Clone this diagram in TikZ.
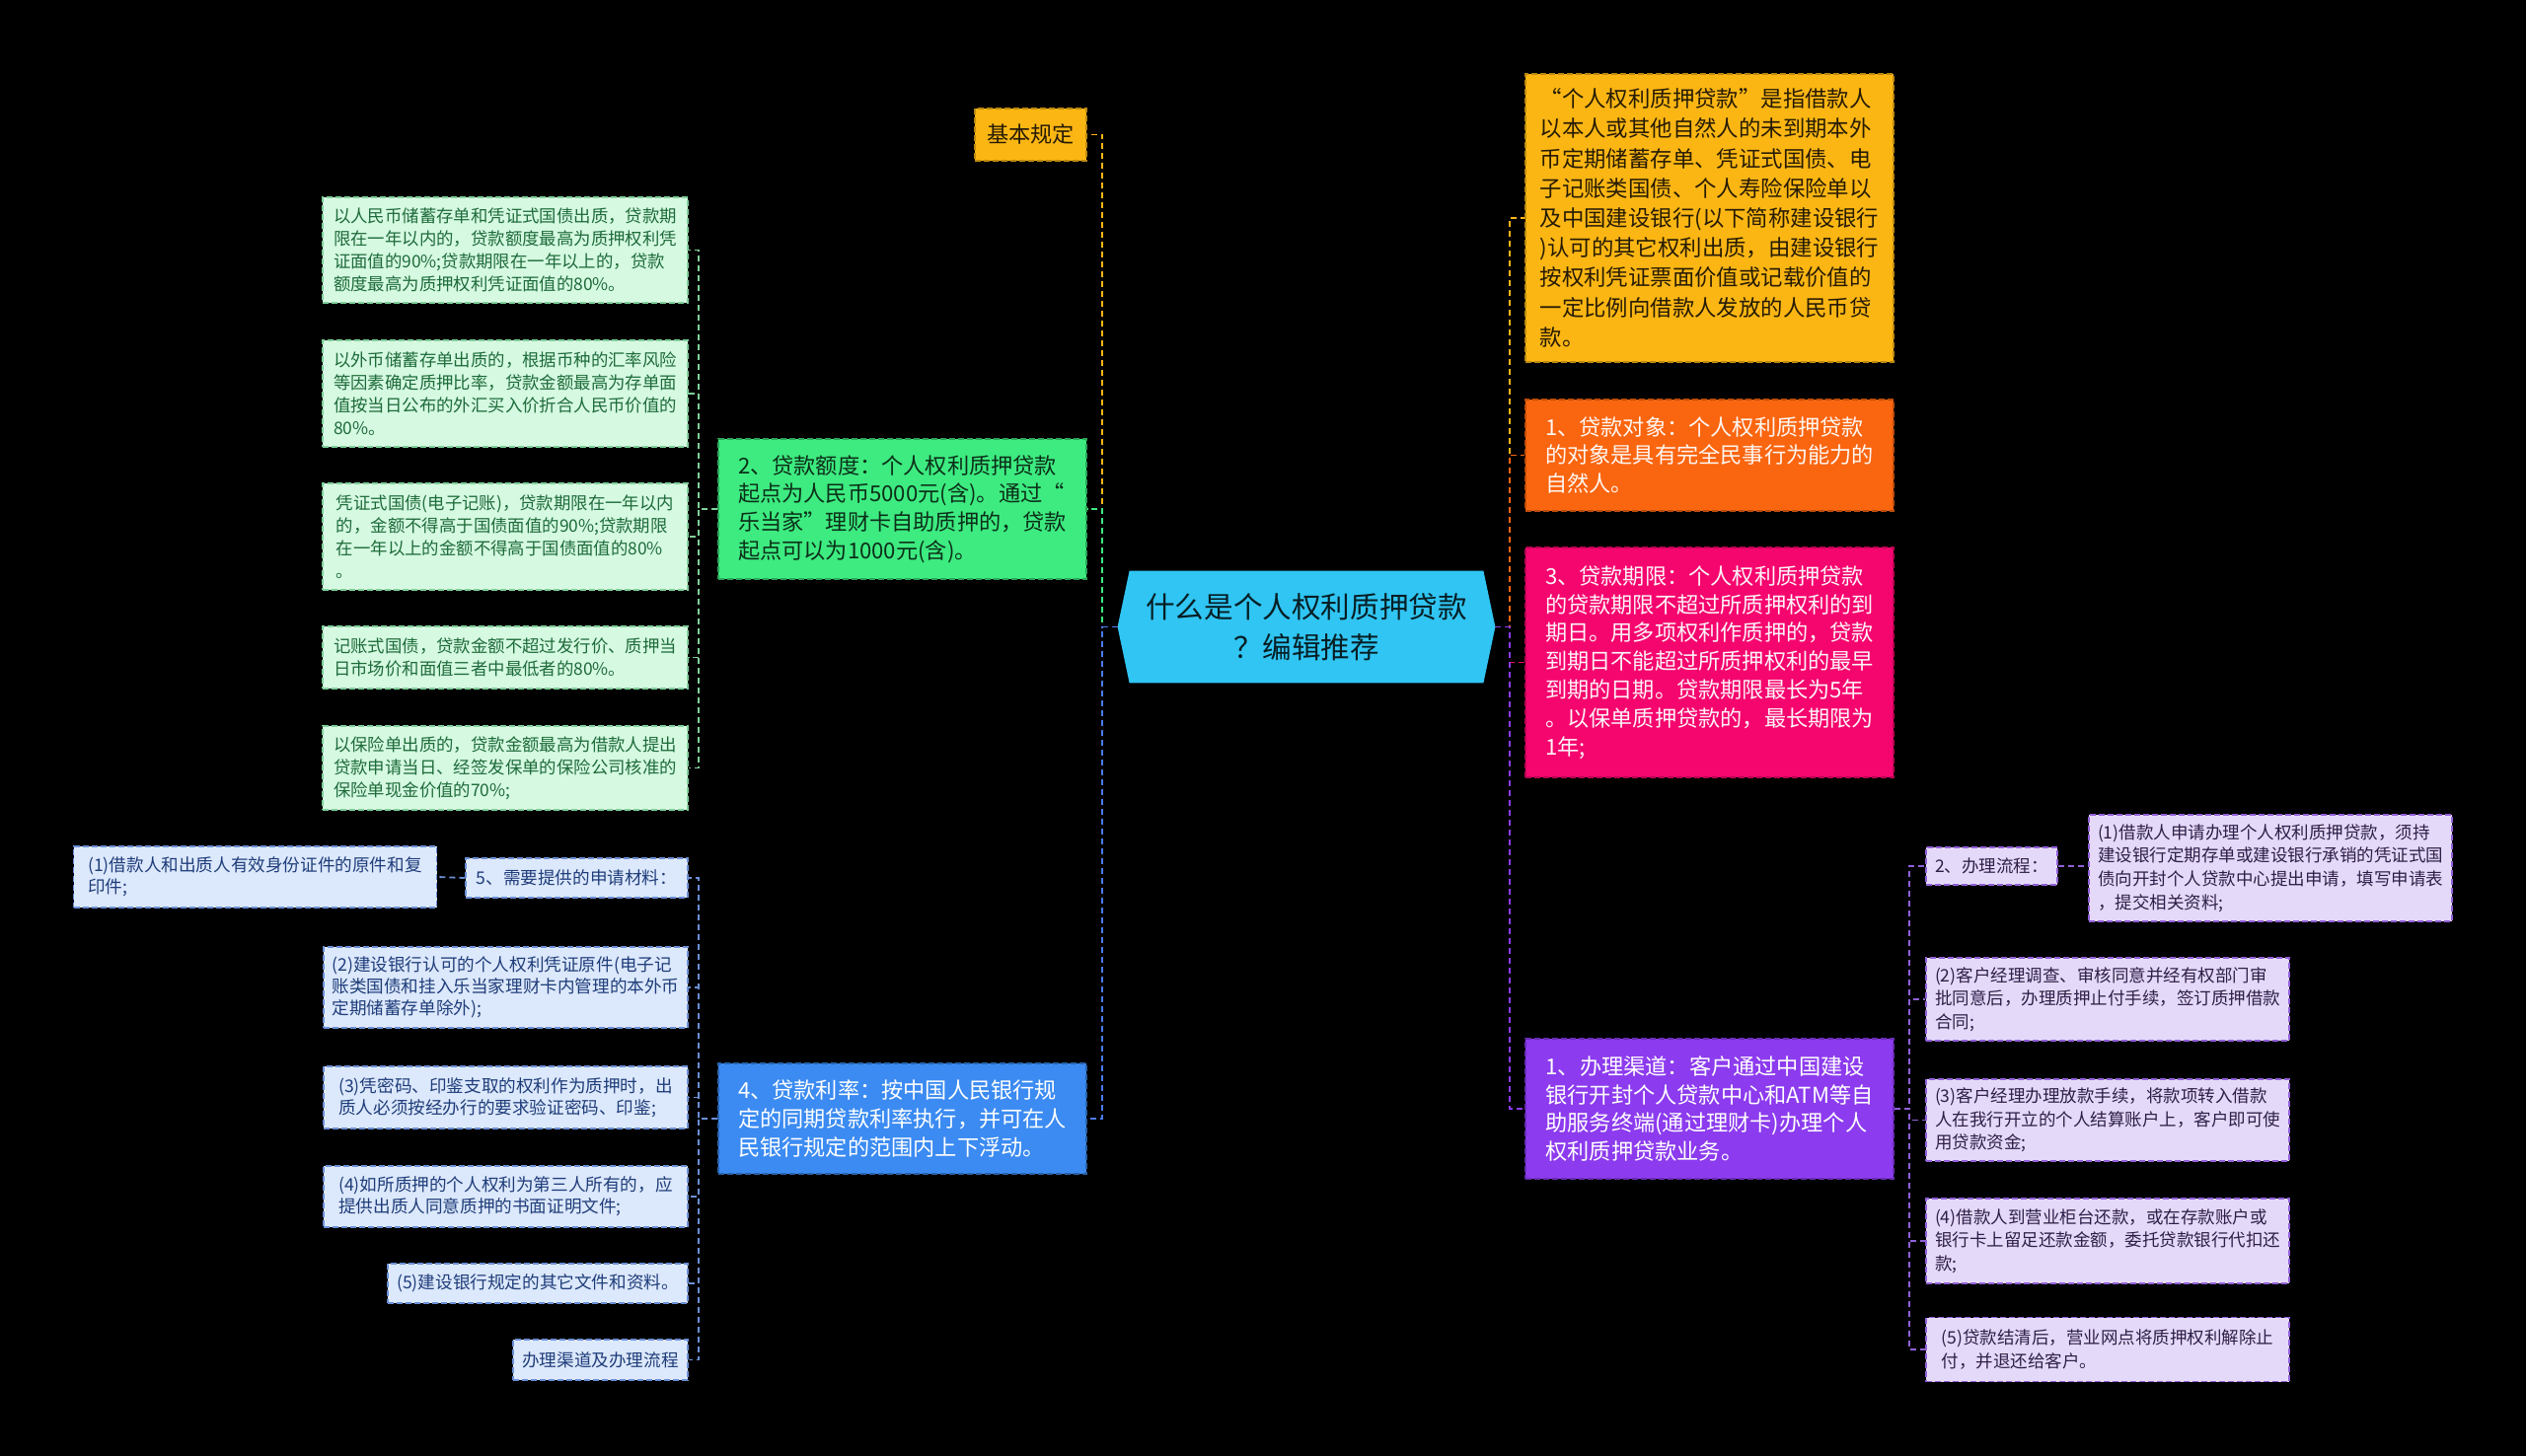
\documentclass[tikz,border=0pt]{standalone}
\usepackage{fontspec}
\setmainfont{Noto Sans CJK SC}
\usetikzlibrary{calc}
\pgfdeclarelayer{bg}
\pgfsetlayers{bg,main}
\definecolor{cYel}{HTML}{FBB614}
\definecolor{cGrn}{HTML}{3DEB80}
\definecolor{cBlu}{HTML}{3B8BF2}
\definecolor{cOrg}{HTML}{FA650F}
\definecolor{cPnk}{HTML}{F5066E}
\definecolor{cPur}{HTML}{8C3BEE}
\definecolor{cCen}{HTML}{30C5F3}
\definecolor{lGrn}{HTML}{D5F9E1}
\definecolor{lBlu}{HTML}{DCE8FB}
\definecolor{lPur}{HTML}{E5D9F9}
\definecolor{tGrn}{HTML}{1E6B3A}
\definecolor{tBlu}{HTML}{1F3D7A}
\definecolor{tPur}{HTML}{2D1F47}
\definecolor{sGrn}{HTML}{7FCF9A}
\definecolor{sBlu}{HTML}{6B8FD6}
\definecolor{sPur}{HTML}{9060D8}
\begin{document}
\begin{tikzpicture}[x=0.5pt,y=-0.5pt,
  box/.style={draw, dash pattern=on 3pt off 1.5pt, line width=0.6pt, inner sep=0pt, align=left, anchor=center},
  mainbox/.style={box, font=\fontsize{11.1}{14.4}\selectfont},
  leafg/.style={box, font=\fontsize{8.7}{11.6}\selectfont, fill=lGrn, draw=sGrn, text=tGrn},
  leafb/.style={box, font=\fontsize{8.8}{11}\selectfont, fill=lBlu, draw=sBlu, text=tBlu},
  leafp/.style={box, font=\fontsize{8.75}{11.8}\selectfont, fill=lPur, draw=sPur, text=tPur},
  conn/.style={line width=0.9pt, dash pattern=on 3pt off 2pt},
]
\begin{pgfonlayer}{bg}
\fill[black] (0,0) rectangle (2560,1476);
\end{pgfonlayer}
\useasboundingbox (0,0) rectangle (2560,1476);

% center
\node[font=\fontsize{14.8}{20.5}\selectfont, text=black!85!cCen, align=center, minimum width=191pt, minimum height=56.5pt, inner sep=0pt] (c) at (1324,635.5) {什么是个人权利质押贷款\\？编辑推荐};

% left main
\node[mainbox, fill=cYel, draw=cYel!75!black, text=black!85!cYel, minimum width=56.5pt, minimum height=26.5pt] (jb) at (1044.5,136.5) {基本规定};
\node[mainbox, fill=cGrn, draw=cGrn!70!black, text=black!80!cGrn, minimum width=186.5pt, minimum height=71pt] (ed) at (914.5,516) {2、贷款额度：个人权利质押贷款\\起点为人民币5000元(含)。通过“\\乐当家”理财卡自助质押的，贷款\\起点可以为1000元(含)。};
\node[mainbox, fill=cBlu, draw=cBlu!70!black, text=white, minimum width=186.5pt, minimum height=56pt] (ll) at (914.5,1134) {4、贷款利率：按中国人民银行规\\定的同期贷款利率执行，并可在人\\民银行规定的范围内上下浮动。};

% green leaves
\node[leafg, minimum width=185pt, minimum height=53.5pt] (g1) at (512,253.5) {以人民币储蓄存单和凭证式国债出质，贷款期\\限在一年以内的，贷款额度最高为质押权利凭\\证面值的90\%;贷款期限在一年以上的，贷款\\额度最高为质押权利凭证面值的80\%。};
\node[leafg, minimum width=185pt, minimum height=54pt] (g2) at (512,399) {以外币储蓄存单出质的，根据币种的汇率风险\\等因素确定质押比率，贷款金额最高为存单面\\值按当日公布的外汇买入价折合人民币价值的\\80\%。};
\node[leafg, minimum width=185pt, minimum height=54pt] (g3) at (512,544) {凭证式国债(电子记账)，贷款期限在一年以内\\的，金额不得高于国债面值的90\%;贷款期限\\在一年以上的金额不得高于国债面值的80\%\\。};
\node[leafg, minimum width=185pt, minimum height=31.5pt] (g4) at (512,666.5) {记账式国债，贷款金额不超过发行价、质押当\\日市场价和面值三者中最低者的80\%。};
\node[leafg, minimum width=185pt, minimum height=42.5pt] (g5) at (512,778.5) {以保险单出质的，贷款金额最高为借款人提出\\贷款申请当日、经签发保单的保险公司核准的\\保险单现金价值的70\%;};

% blue leaves
\node[leafb, minimum width=184pt, minimum height=31pt] (b1) at (258.5,889) {(1)借款人和出质人有效身份证件的原件和复\\印件;};
\node[leafb, minimum width=112.5pt, minimum height=20pt] (b5) at (584.5,890) {5、需要提供的申请材料：};
\node[leafb, minimum width=184.5pt, minimum height=41pt] (b2) at (512.5,1001) {(2)建设银行认可的个人权利凭证原件(电子记\\账类国债和挂入乐当家理财卡内管理的本外币\\定期储蓄存单除外);};
\node[leafb, minimum width=184.5pt, minimum height=31.5pt] (b3) at (512.5,1112.5) {(3)凭密码、印鉴支取的权利作为质押时，出\\质人必须按经办行的要求验证密码、印鉴;};
\node[leafb, minimum width=184.5pt, minimum height=31pt] (b4) at (512.5,1213) {(4)如所质押的个人权利为第三人所有的，应\\提供出质人同意质押的书面证明文件;};
\node[leafb, minimum width=152pt, minimum height=20pt] (b6) at (545,1301) {(5)建设银行规定的其它文件和资料。};
\node[leafb, minimum width=88.5pt, minimum height=20.5pt] (b7) at (608.5,1378.5) {办理渠道及办理流程};

% right main
\node[mainbox, fill=cYel, draw=cYel!75!black, text=black!85!cYel, minimum width=186.5pt, minimum height=146pt, font=\fontsize{11.2}{15.1}\selectfont] (def) at (1732.5,221) {“个人权利质押贷款”是指借款人\\以本人或其他自然人的未到期本外\\币定期储蓄存单、凭证式国债、电\\子记账类国债、个人寿险保险单以\\及中国建设银行(以下简称建设银行\\)认可的其它权利出质，由建设银行\\按权利凭证票面价值或记载价值的\\一定比例向借款人发放的人民币贷\\款。};
\node[mainbox, fill=cOrg, draw=cOrg!75!black, text=white!94!cOrg, minimum width=186.5pt, minimum height=56.5pt] (dx) at (1732.5,461.5) {1、贷款对象：个人权利质押贷款\\的对象是具有完全民事行为能力的\\自然人。};
\node[mainbox, fill=cPnk, draw=cPnk!75!black, text=white!95!cPnk, minimum width=186.5pt, minimum height=116.5pt] (qx) at (1732.5,671.5) {3、贷款期限：个人权利质押贷款\\的贷款期限不超过所质押权利的到\\期日。用多项权利作质押的，贷款\\到期日不能超过所质押权利的最早\\到期的日期。贷款期限最长为5年\\。以保单质押贷款的，最长期限为\\1年;};
\node[mainbox, fill=cPur, draw=cPur!75!black, text=white, minimum width=186.5pt, minimum height=71pt] (qd) at (1732.5,1124) {1、办理渠道：客户通过中国建设\\银行开封个人贷款中心和ATM等自\\助服务终端(通过理财卡)办理个人\\权利质押贷款业务。};

% purple leaves
\node[leafp, minimum width=66.5pt, minimum height=19pt] (p0) at (2018.5,878) {2、办理流程：};
\node[leafp, minimum width=184pt, minimum height=54pt] (p1) at (2301,880) {(1)借款人申请办理个人权利质押贷款，须持\\建设银行定期存单或建设银行承销的凭证式国\\债向开封个人贷款中心提出申请，填写申请表\\，提交相关资料;};
\node[leafp, minimum width=184pt, minimum height=42pt] (p2) at (2136,1013) {(2)客户经理调查、审核同意并经有权部门审\\批同意后，办理质押止付手续，签订质押借款\\合同;};
\node[leafp, minimum width=184pt, minimum height=41.5pt] (p3) at (2136,1135.5) {(3)客户经理办理放款手续，将款项转入借款\\人在我行开立的个人结算账户上，客户即可使\\用贷款资金;};
\node[leafp, minimum width=184pt, minimum height=43pt] (p4) at (2136,1258) {(4)借款人到营业柜台还款，或在存款账户或\\银行卡上留足还款金额，委托贷款银行代扣还\\款;};
\node[leafp, minimum width=184pt, minimum height=32.5pt] (p5) at (2136,1368) {(5)贷款结清后，营业网点将质押权利解除止\\付，并退还给客户。};

% hubs
\coordinate (lhub) at (1117,635.5);
\coordinate (rhub) at (1530,635.5);
\coordinate (ghub) at (708,516);
\coordinate (bhub) at (708,1134);
\coordinate (phub) at (1935,1124);

\begin{pgfonlayer}{bg}
% left main connectors
\draw[conn, cYel] (c.west) -- (lhub) |- (jb.east);
\draw[conn, cGrn] (c.west) -- (lhub) |- (ed.east);
\draw[conn, cBlu!80!cPur] (c.west) -- (lhub) |- (ll.east);
% right main connectors
\draw[conn, cYel] (c.east) -- (rhub) |- (def.west);
\draw[conn, cOrg] (c.east) -- (rhub) |- (dx.west);
\draw[conn, cPnk] (c.east) -- (rhub) |- (qx.west);
\draw[conn, cPur] (c.east) -- (rhub) |- (qd.west);
% green sub
\foreach \n in {g1,g2,g3,g4,g5} \draw[conn, sGrn] (ed.west) -- (ghub) |- (\n.east);
% blue sub
\foreach \n in {b5,b2,b3,b4,b6,b7} \draw[conn, sBlu] (ll.west) -- (bhub) |- (\n.east);
\draw[conn, sBlu] (b5.west) -- (b1.east);
% purple sub
\foreach \n in {p0,p2,p3,p4,p5} \draw[conn, sPur] (qd.east) -- (phub) |- (\n.west);
\draw[conn, sPur] (p0.east) -- (p0.east -| p1.west);
% center hexagon
\fill[cCen] (c.west) -- ($(c.north west)+(12,0)$) -- ($(c.north east)+(-12,0)$) -- (c.east) -- ($(c.south east)+(-12,0)$) -- ($(c.south west)+(12,0)$) -- cycle;
\end{pgfonlayer}
\end{tikzpicture}
\end{document}
